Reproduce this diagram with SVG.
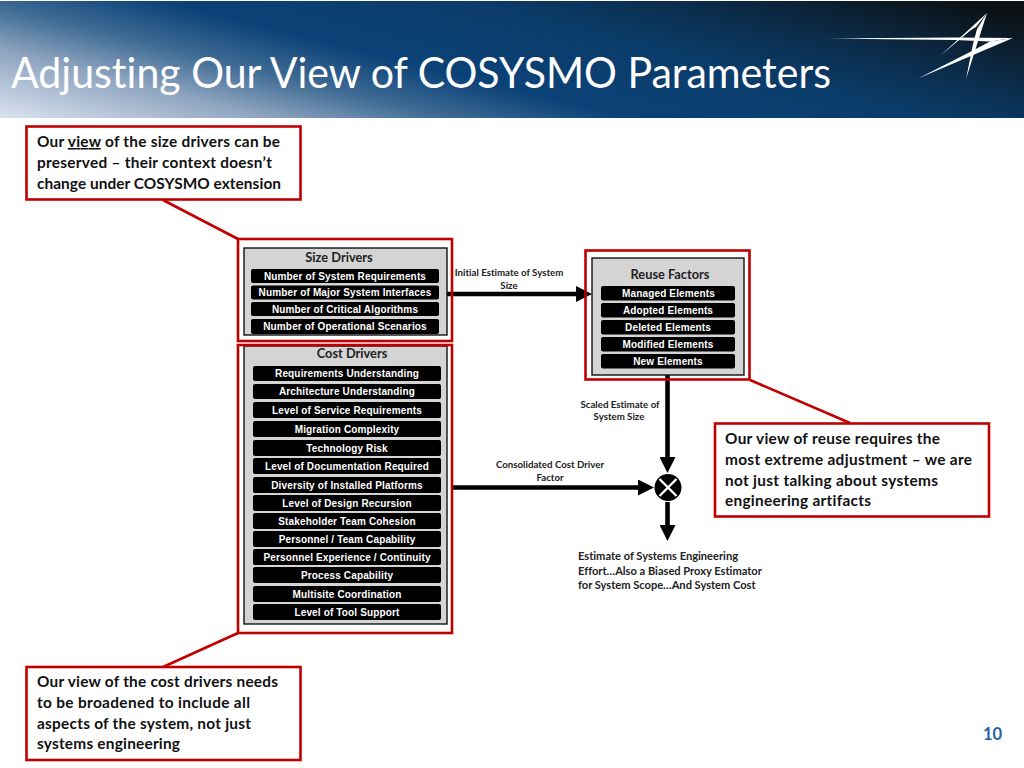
<svg xmlns="http://www.w3.org/2000/svg" width="1024" height="768" viewBox="0 0 1024 768">
<style>
.red{fill:#fff;stroke:#c00000;stroke-width:2.6}
.frame{fill:none;stroke:#c00000;stroke-width:2.6}
.gray{fill:#d4d4d4;stroke:#111;stroke-width:1.4}
.pill{fill:#000;stroke:none}
.pt{font:bold 10px "Liberation Sans",Arial,sans-serif;fill:#fff;text-anchor:middle;letter-spacing:.15px}
.hd{font:bold 12.8px "Lato","Open Sans",sans-serif;fill:#222;text-anchor:middle}
.lb{font:bold 9.7px "Lato","Open Sans",sans-serif;fill:#222;font-variant-ligatures:none}
.lg{font-size:11.1px}
.mid{text-anchor:middle}
.ct{font:bold 15.4px "Lato","Open Sans",sans-serif;fill:#111;font-variant-ligatures:none}
.ln{stroke:#000;stroke-width:4.600;fill:none}
.ld{stroke:#c00000;stroke-width:2.6;fill:none}
</style>
<defs>
<linearGradient id="hdr" gradientUnits="userSpaceOnUse" x1="0" y1="118" x2="88" y2="-234">
<stop offset="0" stop-color="#dbe3f0"/>
<stop offset=".18" stop-color="#8fa5c0"/>
<stop offset=".3" stop-color="#3e6a94"/>
<stop offset=".42" stop-color="#0b4277"/>
<stop offset=".62" stop-color="#0b3c6a"/>
<stop offset=".78" stop-color="#0b2a47"/>
<stop offset=".95" stop-color="#0b1216"/>
</linearGradient>
<linearGradient id="sw" gradientUnits="userSpaceOnUse" x1="822" y1="0" x2="960" y2="0">
<stop offset="0" stop-color="#fff" stop-opacity=".2"/>
<stop offset=".3" stop-color="#fff"/>
</linearGradient>
<marker id="ah" markerUnits="userSpaceOnUse" markerWidth="16" markerHeight="16" refX="8" refY="8" orient="auto">
<path d="M0 0L16 8L0 16Z" fill="#000"/>
</marker>
</defs>

<rect width="1024" height="768" fill="#fff"/>
<g id="header">
<rect x="0" y="1" width="1024" height="117" fill="url(#hdr)"/>
<text x="11" y="88" font-family="Lato,'Open Sans',sans-serif" font-size="42" fill="#fff" textLength="820" lengthAdjust="spacingAndGlyphs" style="font-variant-ligatures:none">Adjusting Our View of COSYSMO Parameters</text>
<g id="logo">
<path d="M822 38.500L955 37.400L1013 38L990 41.500L955 40Z" fill="url(#sw)"/>
<path d="M1013 38L918 78.500L972 51L990 41.500Z" fill="#fff"/>
<path d="M987 13L940 56L971 30L976 27Z" fill="#fff"/>
<path d="M987 13L966 79L973 44L977 29Z" fill="#fff"/>
</g>
</g>

<g id="connectors">
<path class="ld" d="M163 200L238 239"/>
<path class="ld" d="M750 380L850 423"/>
<path class="ld" d="M238 633L163 667"/>
<path class="ln" d="M447 294H584" marker-end="url(#ah)"/>
<path class="ln" d="M667.500 375V465" marker-end="url(#ah)"/>
<path class="ln" d="M452 487.500H646" marker-end="url(#ah)"/>
<path class="ln" d="M667.500 502V533" marker-end="url(#ah)"/>
</g>

<g id="size-drivers">
<rect class="gray" x="244" y="248" width="203" height="87"/>
<text class="hd" x="339" y="262">Size Drivers</text>
<rect class="pill" x="251" y="269" width="188" height="14" rx="2"/><text class="pt" x="345" y="279.500">Number of System Requirements</text>
<rect class="pill" x="251" y="285.500" width="188" height="14" rx="2"/><text class="pt" x="345" y="296">Number of Major System Interfaces</text>
<rect class="pill" x="251" y="302" width="188" height="14" rx="2"/><text class="pt" x="345" y="312.500">Number of Critical Algorithms</text>
<rect class="pill" x="251" y="319" width="188" height="15" rx="2"/><text class="pt" x="345" y="330">Number of Operational Scenarios</text>
</g>
<rect id="size-frame" class="frame" x="238" y="239" width="214" height="102"/>

<g id="cost-drivers">
<rect class="gray" x="244" y="346" width="203" height="278"/>
<text class="hd" x="352" y="358">Cost Drivers</text>
<g>
<rect class="pill" x="253" y="366" width="188" height="15" rx="2"/><text class="pt" x="347" y="377">Requirements Understanding</text>
<rect class="pill" x="253" y="384" width="188" height="15" rx="2"/><text class="pt" x="347" y="395">Architecture Understanding</text>
<rect class="pill" x="253" y="402" width="188" height="16" rx="2"/><text class="pt" x="347" y="413.500">Level of Service Requirements</text>
<rect class="pill" x="253" y="421" width="188" height="16" rx="2"/><text class="pt" x="347" y="432.500">Migration Complexity</text>
<rect class="pill" x="253" y="440" width="188" height="16" rx="2"/><text class="pt" x="347" y="451.500">Technology Risk</text>
<rect class="pill" x="253" y="458" width="188" height="16" rx="2"/><text class="pt" x="347" y="469.500">Level of Documentation Required</text>
<rect class="pill" x="253" y="477" width="188" height="16" rx="2"/><text class="pt" x="347" y="488.500">Diversity of Installed Platforms</text>
<rect class="pill" x="253" y="495" width="188" height="16" rx="2"/><text class="pt" x="347" y="506.500">Level of Design Recursion</text>
<rect class="pill" x="253" y="513" width="188" height="16" rx="2"/><text class="pt" x="347" y="524.500">Stakeholder Team Cohesion</text>
<rect class="pill" x="253" y="531" width="188" height="16" rx="2"/><text class="pt" x="347" y="542.500">Personnel / Team Capability</text>
<rect class="pill" x="253" y="549" width="188" height="16" rx="2"/><text class="pt" x="347" y="560.500">Personnel Experience / Continuity</text>
<rect class="pill" x="253" y="567" width="188" height="16" rx="2"/><text class="pt" x="347" y="578.500">Process Capability</text>
<rect class="pill" x="253" y="586" width="188" height="16" rx="2"/><text class="pt" x="347" y="597.500">Multisite Coordination</text>
<rect class="pill" x="253" y="604" width="188" height="16" rx="2"/><text class="pt" x="347" y="615.500">Level of Tool Support</text>
</g>
</g>
<rect id="cost-frame" class="frame" x="238" y="345" width="214" height="288"/>

<g id="reuse-factors">
<rect class="frame" x="585.500" y="250.500" width="164" height="129"/>
<rect class="gray" x="592" y="258" width="152" height="117"/>
<text class="hd" x="670" y="279">Reuse Factors</text>
<rect class="pill" x="601" y="286" width="134" height="14.500" rx="2"/><text class="pt" x="668.500" y="297">Managed Elements</text>
<rect class="pill" x="601" y="303" width="134" height="14.500" rx="2"/><text class="pt" x="668" y="314">Adopted Elements</text>
<rect class="pill" x="601" y="320" width="134" height="14.500" rx="2"/><text class="pt" x="668" y="331">Deleted Elements</text>
<rect class="pill" x="601" y="337" width="134" height="14.500" rx="2"/><text class="pt" x="668" y="348">Modified Elements</text>
<rect class="pill" x="601" y="354" width="134" height="14.500" rx="2"/><text class="pt" x="668" y="365">New Elements</text>
</g>

<g id="multiply">
<circle cx="668" cy="487.500" r="13.500" fill="#000"/>
<path d="M659.500 479L676.500 496M676.500 479L659.500 496" stroke="#fff" stroke-width="2.400"/>
</g>

<g id="labels">
<text class="lb mid" x="509" y="276">Initial Estimate of System</text>
<text class="lb mid" x="509" y="289">Size</text>
<text class="lb mid" x="620" y="408">Scaled Estimate of</text>
<text class="lb mid" x="619" y="420">System Size</text>
<text class="lb mid" x="550" y="468">Consolidated Cost Driver</text>
<text class="lb mid" x="550" y="481">Factor</text>
<text class="lb lg" x="578" y="560">Estimate of Systems Engineering</text>
<text class="lb lg" x="578" y="575">Effort…Also a Biased Proxy Estimator</text>
<text class="lb lg" x="578" y="589">for System Scope…And System Cost</text>
</g>

<g id="callout-size">
<rect class="red" x="26.500" y="126.500" width="274" height="73"/>
<text class="ct" x="37" y="147" textLength="243">Our <tspan text-decoration="underline">view</tspan> of the size drivers can be</text>
<text class="ct" x="37" y="168" textLength="235">preserved – their context doesn’t</text>
<text class="ct" x="37" y="189" textLength="244">change under COSYSMO extension</text>
</g>
<g id="callout-reuse">
<rect class="red" x="715" y="423.500" width="274" height="93"/>
<text class="ct" x="725" y="444" textLength="215">Our view of reuse requires the</text>
<text class="ct" x="725" y="465" textLength="247">most extreme adjustment – we are</text>
<text class="ct" x="725" y="485.500" textLength="213">not just talking about systems</text>
<text class="ct" x="725" y="506" textLength="146">engineering artifacts</text>
</g>
<g id="callout-cost">
<rect class="red" x="26.500" y="667" width="274" height="93"/>
<text class="ct" x="37" y="687" textLength="241">Our view of the cost drivers needs</text>
<text class="ct" x="37" y="708" textLength="213">to be broadened to include all</text>
<text class="ct" x="37" y="728.500" textLength="214">aspects of the system, not just</text>
<text class="ct" x="37" y="749" textLength="143">systems engineering</text>
</g>
<text id="page" x="983" y="740" font-family="Lato,'Open Sans',sans-serif" font-weight="700" font-size="16.500" fill="#1f5fa8">10</text>
</svg>
